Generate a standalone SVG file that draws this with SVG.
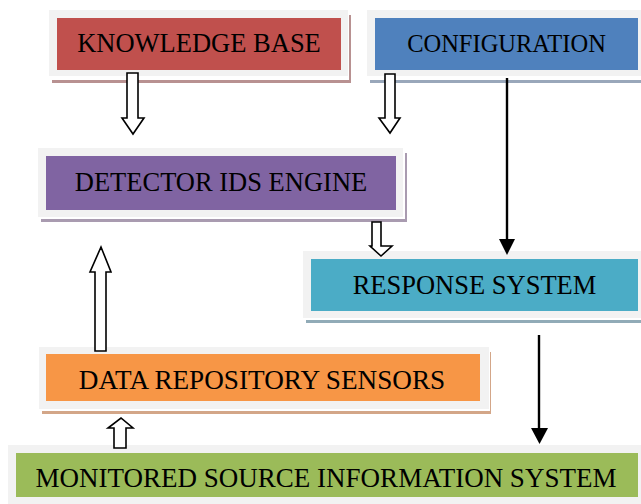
<svg xmlns="http://www.w3.org/2000/svg" width="641" height="504" viewBox="0 0 641 504">
<style>
.frame{fill:#f2f2f2}
.lbl{font-family:"Liberation Serif","Times New Roman",serif;font-size:26.5px;fill:#000;text-anchor:middle}
.hollow{fill:#fff;stroke:#000;stroke-width:1.6;stroke-linejoin:miter}
.line{stroke:#000;stroke-width:2.4;fill:none}
</style>
<rect width="641" height="504" fill="#fff"/>
<g id="knowledge-base">
<rect x="52" y="15" width="299" height="68" fill="#b89191"/>
<rect x="49" y="10" width="300" height="70" fill="#fff"/>
<rect class="frame" x="49" y="10" width="299" height="66"/>
<rect x="57" y="18" width="284" height="52" fill="#c0504d"/>
<text class="lbl" x="199" y="52">KNOWLEDGE BASE</text>
</g>
<g id="configuration">
<rect x="370" y="15" width="275" height="68" fill="#99a7ba"/>
<rect x="367" y="10" width="278" height="70" fill="#fff"/>
<rect class="frame" x="367" y="10" width="278" height="66"/>
<rect x="375" y="18" width="263" height="52" fill="#4f81bd"/>
<text class="lbl" x="506.5" y="52" style="font-size:24.5px">CONFIGURATION</text>
</g>
<g id="detector">
<rect x="41" y="153" width="366" height="69" fill="#a99bb0"/>
<rect x="38" y="148" width="367" height="71" fill="#fff"/>
<rect class="frame" x="38" y="148" width="365" height="69"/>
<rect x="46" y="156" width="350" height="54" fill="#8064a2"/>
<text class="lbl" x="221" y="191">DETECTOR IDS ENGINE</text>
</g>
<g id="response">
<rect x="306" y="256" width="340" height="67" fill="#91abb7"/>
<rect x="303" y="251" width="343" height="69" fill="#fff"/>
<rect class="frame" x="303" y="251" width="343" height="67"/>
<rect x="311" y="259" width="327" height="52" fill="#4bacc6"/>
<text class="lbl" x="474.5" y="294">RESPONSE SYSTEM</text>
</g>
<g id="data-repository">
<rect x="42" y="352" width="449" height="62" fill="#d3a688"/>
<rect x="39" y="347" width="451" height="64" fill="#fff"/>
<rect class="frame" x="39" y="347" width="450" height="62"/>
<rect x="46" y="354" width="434" height="47" fill="#f79646"/>
<text class="lbl" x="262" y="389" style="font-size:27.2px">DATA REPOSITORY SENSORS</text>
</g>
<g id="monitored-source">
<rect class="frame" x="8" y="445" width="640" height="62"/>
<rect x="16" y="453" width="622" height="44" fill="#9bbb59"/>
<text class="lbl" x="326" y="487" style="font-size:27px">MONITORED SOURCE INFORMATION SYSTEM</text>
</g>
<g id="connectors">
<polygon class="hollow" points="127,73 138,73 138,118 144,118 133,134 122,118 127,118"/>
<polygon class="hollow" points="385,74 395,74 395,118 400,118 390,133 379,118 385,118"/>
<polygon class="hollow" points="372,222 381,222 381,246 392,246 381,256 370,246 372,246"/>
<polygon class="hollow" points="95,351 106,351 106,272 111,272 101,247 90,272 95,272"/>
<polygon class="hollow" points="114,448 126,448 126,428 133,428 121,418 108,428 114,428"/>
<line class="line" x1="507" y1="78" x2="507" y2="241"/>
<polygon points="499,239 515,239 507,255" fill="#000"/>
<line class="line" x1="539" y1="335" x2="539" y2="430"/>
<polygon points="531,428 548,428 539.5,444" fill="#000"/>
</g>
</svg>
